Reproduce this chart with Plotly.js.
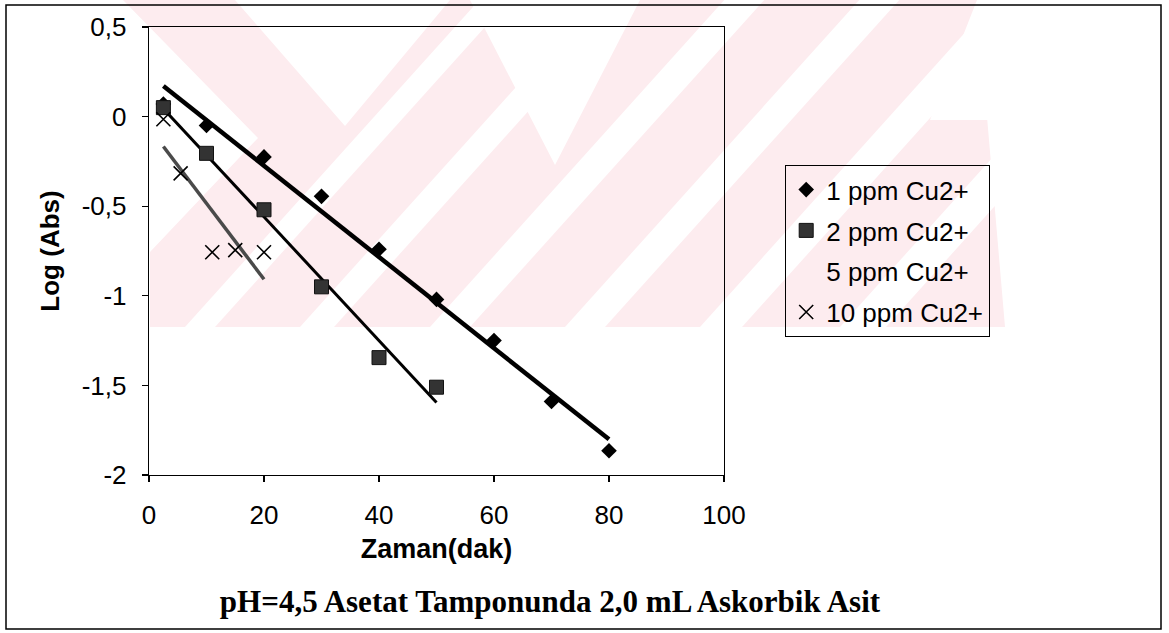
<!DOCTYPE html>
<html>
<head>
<meta charset="utf-8">
<script src="https://cdn.plot.ly/plotly-3.0.1.min.js"></script>
<style>
  html, body { margin: 0; padding: 0; background: #ffffff; }
  #chart { width: 1169px; height: 633px; }
</style>
</head>
<body>
<div id="chart"></div>
<script>
// Time in minutes for each copper concentration
const time1ppm = [2.5, 10, 20, 30, 40, 50, 60, 70, 80];
const logAbs1ppm = [0.07, -0.05, -0.225, -0.445, -0.74, -1.02, -1.25, -1.59, -1.865];

const time2ppm = [2.5, 10, 20, 30, 40, 50];
const logAbs2ppm = [0.05, -0.205, -0.52, -0.95, -1.345, -1.51];

const time5ppm = [null];
const logAbs5ppm = [null];

const time10ppm = [2.5, 5.5, 11, 15, 20];
const logAbs10ppm = [-0.015, -0.317, -0.757, -0.745, -0.757];

const seriesNames = ['1 ppm Cu2+', '2 ppm Cu2+', '5 ppm Cu2+', '10 ppm Cu2+'];

const xTickVals = [0, 20, 40, 60, 80, 100];
const xTickText = ['0', '20', '40', '60', '80', '100'];
const yTickVals = [0.5, 0, -0.5, -1, -1.5, -2];
const yTickText = ['0,5', '0', '-0,5', '-1', '-1,5', '-2'];

// Least-squares straight line through a series, drawn over its own x span
function linearTrend(xs, ys) {
  const n = xs.length;
  const mx = xs.reduce((a, b) => a + b, 0) / n;
  const my = ys.reduce((a, b) => a + b, 0) / n;
  let sxy = 0, sxx = 0;
  for (let i = 0; i < n; i++) {
    sxy += (xs[i] - mx) * (ys[i] - my);
    sxx += (xs[i] - mx) * (xs[i] - mx);
  }
  const slope = sxy / sxx;
  const icpt = my - slope * mx;
  const x0 = Math.min(...xs), x1 = Math.max(...xs);
  return { x: [x0, x1], y: [icpt + slope * x0, icpt + slope * x1] };
}

const fit1 = linearTrend(time1ppm, logAbs1ppm);
const fit2 = linearTrend(time2ppm, logAbs2ppm);
const fit10 = linearTrend(time10ppm, logAbs10ppm);

const sans = 'Arial, "Liberation Sans", sans-serif';

const traces = [
  { x: fit1.x, y: fit1.y, mode: 'lines', line: { color: '#000000', width: 4.5 }, showlegend: false, hoverinfo: 'skip' },
  { x: fit2.x, y: fit2.y, mode: 'lines', line: { color: '#000000', width: 3 }, showlegend: false, hoverinfo: 'skip' },
  { x: fit10.x, y: fit10.y, mode: 'lines', line: { color: '#4a4a4a', width: 3.5 }, showlegend: false, hoverinfo: 'skip' },
  {
    x: time1ppm, y: logAbs1ppm, name: seriesNames[0], mode: 'markers', legendgroup: 'a',
    marker: { symbol: 'diamond', size: 12, color: '#000000', line: { width: 0 } }
  },
  {
    x: time2ppm, y: logAbs2ppm, name: seriesNames[1], mode: 'markers', legendgroup: 'b',
    marker: { symbol: 'square', size: 14, color: '#333333', line: { color: '#111111', width: 1 } }
  },
  {
    x: time5ppm, y: logAbs5ppm, name: seriesNames[2], mode: 'markers', legendgroup: 'c',
    marker: { symbol: 'circle', size: 1, color: 'rgba(0,0,0,0)' }
  },
  {
    x: time10ppm, y: logAbs10ppm, name: seriesNames[3], mode: 'markers', legendgroup: 'd',
    marker: { symbol: 'x-thin-open', size: 14, color: '#000000', line: { color: '#000000', width: 1.6 } }
  }
];

// Plot frame in pixels: x axis 149..724, y axis 27..475
const L = 149, R = 724, T = 27, B = 475, W = 1169, H = 633;
const px = v => (v - L) / (R - L);
const py = v => (B - v) / (B - T);

// Closed polygon (pixel corners) as a paper-referenced path shape
function poly(pts, fill) {
  const d = pts.map((p, i) => (i ? 'L' : 'M') + px(p[0]).toFixed(5) + ',' + py(p[1]).toFixed(5)).join(' ') + ' Z';
  return { type: 'path', xref: 'paper', yref: 'paper', path: d, fillcolor: fill, line: { width: 0 }, layer: 'below' };
}

// Pale pink background emblem with slanted white bands
const pink = '#fdecef';
const emblem = [poly([[123, 0], [977, 0], [1005, 327], [150, 327], [150, 252], [258, 138]], pink)];
const slant = 0.9;        // horizontal shift per pixel of height for the "/" bands
const bandFoot = [185, 300, 430, 565, 700, 840];
const bandWidth = [30, 34, 40, 40, 42, 46];
bandFoot.forEach((b, i) => {
  const w = bandWidth[i], rise = 327 * slant;
  emblem.push(poly([[b, 327], [b + w, 327], [b + w + rise, 0], [b + rise, 0]], '#ffffff'));
});
emblem.push(poly([[235, 0], [450, 0], [345, 126]], '#ffffff'));
emblem.push(poly([[470, 0], [640, 0], [555, 165]], '#ffffff'));
emblem.push(poly([[977, 0], [1169, 0], [1169, 120], [930, 120]], '#ffffff'));

const layout = {
  width: W, height: H,
  margin: { l: L, r: W - R, t: T, b: H - B, pad: 0 },
  paper_bgcolor: '#ffffff',
  plot_bgcolor: 'rgba(0,0,0,0)',
  showlegend: true,
  title: {
    text: 'pH=4,5 Asetat Tamponunda 2,0 mL Askorbik Asit',
    font: { family: '"Times New Roman", "Liberation Serif", serif', size: 31, color: '#000000', weight: 'bold' },
    xref: 'paper', x: px(550), xanchor: 'center',
    yref: 'container', y: 1 - 601 / H, yanchor: 'middle'
  },
  xaxis: {
    range: [0, 100], tickvals: xTickVals, ticktext: xTickText,
    ticks: 'outside', ticklen: 6, tickwidth: 1.3, tickcolor: '#000000',
    showline: true, linecolor: '#000000', linewidth: 1.3, mirror: true,
    showgrid: false, zeroline: false, ticklabelstandoff: 10,
    tickfont: { family: sans, size: 26, color: '#000000' },
    title: { text: 'Zaman(dak)', font: { family: sans, size: 27, color: '#000000', weight: 'bold' }, standoff: 10 }
  },
  yaxis: {
    range: [-2, 0.5], tickvals: yTickVals, ticktext: yTickText,
    ticks: 'outside', ticklen: 6, tickwidth: 1.3, tickcolor: '#000000',
    showline: true, linecolor: '#000000', linewidth: 1.3, mirror: true,
    showgrid: false, zeroline: false, ticklabelstandoff: 10,
    tickfont: { family: sans, size: 26, color: '#000000' },
    title: { text: 'Log (Abs)', font: { family: sans, size: 26, color: '#000000', weight: 'bold' }, standoff: 14 }
  },
  legend: {
    x: px(785), y: py(165), xanchor: 'left', yanchor: 'top',
    bgcolor: 'rgba(0,0,0,0)', bordercolor: '#000000', borderwidth: 1.2,
    font: { family: sans, size: 26, color: '#000000' },
    traceorder: 'grouped', tracegroupgap: 4
  },
  shapes: emblem.concat([
    // outer frame around the whole figure
    { type: 'rect', xref: 'paper', yref: 'paper', x0: px(6), x1: px(1161), y0: py(629), y1: py(5),
      line: { color: '#000000', width: 1.5 }, fillcolor: 'rgba(0,0,0,0)', layer: 'below' }
  ])
};

Plotly.newPlot('chart', traces, layout, { displayModeBar: false, staticPlot: true });
</script>
</body>
</html>
